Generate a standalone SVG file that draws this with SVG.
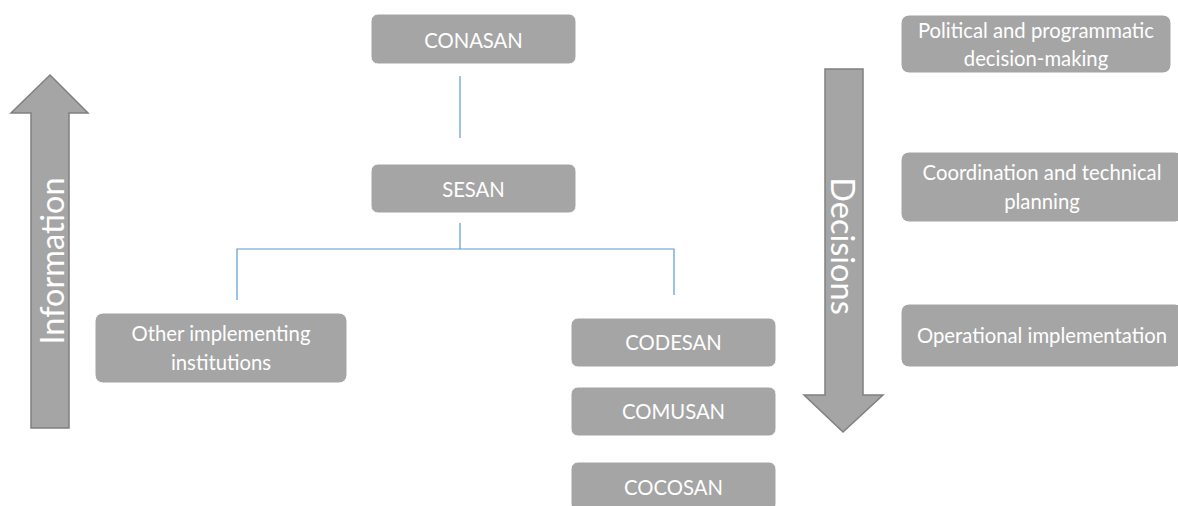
<svg xmlns="http://www.w3.org/2000/svg" width="1178" height="506" viewBox="0 0 1178 506">
<style>
.box{fill:#a5a5a5;stroke:#ffffff;stroke-width:1}
.t{font-family:Lato,"Open Sans",sans-serif;font-size:20.3px;fill:#ffffff;text-anchor:middle;dominant-baseline:central}
.big{font-family:Lato,"Open Sans",sans-serif;font-size:32.5px;fill:#ffffff;text-anchor:middle;dominant-baseline:central}
.arrow{fill:#a5a5a5;stroke:#808080;stroke-width:1.5}
.conn{fill:none;stroke:#5b9bd5;stroke-width:1.2}
</style>
<rect width="1178" height="506" fill="#ffffff"/>
<g id="arrow-information">
<polygon class="arrow" points="50,75 88,113 69,113 69,428 31,428 31,113 11,113"/>
<text class="big" transform="translate(51,261) rotate(-90)">Information</text>
</g>
<g id="arrow-decisions">
<polygon class="arrow" points="825,69 863,69 863,395 883,395 843,432 804,395 825,395"/>
<text class="big" transform="translate(843,246) rotate(90)">Decisions</text>
</g>
<g id="connectors">
<line class="conn" x1="460" y1="76" x2="460" y2="138"/>
<line class="conn" x1="460" y1="223" x2="460" y2="249"/>
<polyline class="conn" points="237,300 237,249 674,249 674,295"/>
</g>
<g id="conasan">
<rect class="box" x="371" y="14" width="205" height="50" rx="7"/>
<text class="t" x="473.5" y="40">CONASAN</text>
</g>
<g id="sesan">
<rect class="box" x="371" y="164" width="205" height="49" rx="7"/>
<text class="t" x="473.5" y="189">SESAN</text>
</g>
<g id="other">
<rect class="box" x="95" y="313" width="252" height="70" rx="8"/>
<text class="t" x="221" y="333">Other implementing</text>
<text class="t" x="221" y="362">institutions</text>
</g>
<g id="codesan">
<rect class="box" x="571" y="318" width="205" height="49" rx="7"/>
<text class="t" x="673.5" y="342">CODESAN</text>
</g>
<g id="comusan">
<rect class="box" x="571" y="387" width="205" height="49" rx="7"/>
<text class="t" x="673.5" y="411">COMUSAN</text>
</g>
<g id="cocosan">
<rect class="box" x="571" y="462" width="205" height="49" rx="7"/>
<text class="t" x="673.5" y="487">COCOSAN</text>
</g>
<g id="level-political">
<rect class="box" x="901" y="15" width="270" height="58" rx="8"/>
<text class="t" x="1036" y="30">Political and programmatic</text>
<text class="t" x="1036" y="58">decision-making</text>
</g>
<g id="level-coordination">
<rect class="box" x="901" y="152" width="282" height="70" rx="8"/>
<text class="t" x="1042" y="172">Coordination and technical</text>
<text class="t" x="1042" y="201">planning</text>
</g>
<g id="level-operational">
<rect class="box" x="901" y="304" width="282" height="63" rx="8"/>
<text class="t" x="1042" y="335">Operational implementation</text>
</g>
</svg>
